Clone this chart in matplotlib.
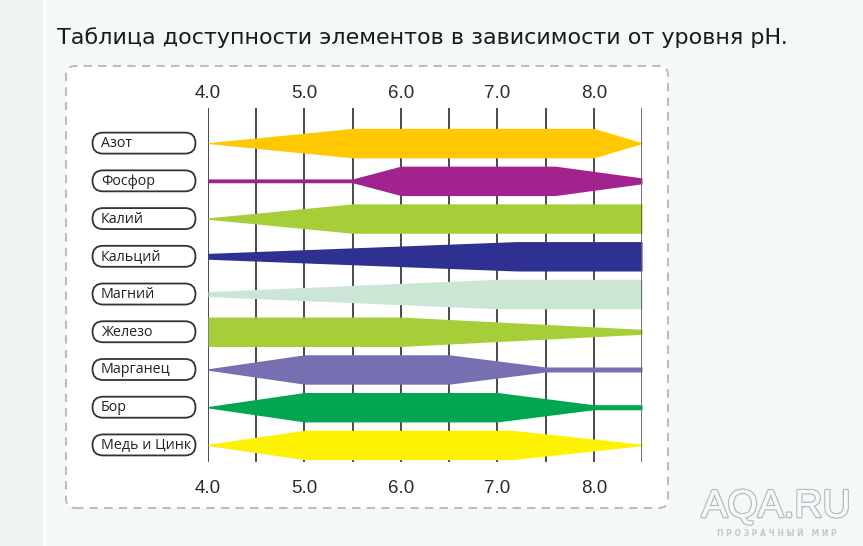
import matplotlib
matplotlib.use("Agg")
import matplotlib.pyplot as plt
from matplotlib.patches import FancyBboxPatch, Rectangle
import matplotlib.patheffects as pe

# данные: элементы, цвета и профиль ширины полосы по pH
elements = ["Азот", "Фосфор", "Калий", "Кальций", "Магний",
            "Железо", "Марганец", "Бор", "Медь и Цинк"]
colors = ["#ffc800", "#a2238d", "#a6ce39", "#2e3192", "#cbe6d5",
          "#a6ce39", "#7670b3", "#00a650", "#fff200"]
ph_knots = [
    [4.0, 5.5, 8.0, 8.5],
    [4.0, 5.5, 6.0, 7.6, 8.5],
    [4.0, 5.5, 8.5],
    [4.0, 7.2, 8.5],
    [4.0, 7.0, 8.5],
    [4.0, 6.0, 8.5],
    [4.0, 5.0, 6.5, 7.5, 8.5],
    [4.0, 5.0, 7.0, 8.0, 8.5],
    [4.0, 5.0, 7.15, 8.5],
]
widths = [
    [0.03, 1, 1, 0.03],
    [0.13, 0.13, 1, 1, 0.2],
    [0.05, 1, 1],
    [0.2, 1, 1],
    [0.17, 1, 1],
    [1, 1, 0.17],
    [0.05, 1, 1, 0.17, 0.17],
    [0.05, 1, 1, 0.17, 0.17],
    [0.05, 1, 1, 0.05],
]
tick_ph = [4.0, 5.0, 6.0, 7.0, 8.0]
grid_ph = [4.0, 4.5, 5.0, 5.5, 6.0, 6.5, 7.0, 7.5, 8.0, 8.5]

W, H = 863, 546
fig = plt.figure(figsize=(W / 100, H / 100), dpi=100, facecolor="#f4f8f9")

# подложка в пикселях
bg = fig.add_axes([0, 0, 1, 1], zorder=0)
bg.set_xlim(0, W)
bg.set_ylim(0, H)
bg.axis("off")
bg.add_patch(Rectangle((0, 0), 43, H, fc="#eef2f3", ec="none"))
bg.add_patch(Rectangle((43, 0), 2.5, H, fc="white", ec="none"))
bg.add_patch(FancyBboxPatch((66, H - 508), 602, 442,
                            boxstyle="round,pad=0,rounding_size=9",
                            fc="white", ec="#bdbdbd", lw=1.5, ls=(0, (4, 3))))
bg.text(57, H - 38, "Таблица доступности элементов в зависимости от уровня pH.",
        fontsize=16, family="DejaVu Sans", color="#1a1a1a", va="center", ha="left")

# водяной знак
bg.text(776, H - 507, "AQA.RU", fontsize=28, family="Liberation Sans",
        color="#f7f9fa", ha="center", va="center",
        path_effects=[pe.withStroke(linewidth=2.0, foreground="#b8bcbe"),
                      pe.Normal()])
bg.text(777, H - 533, "П Р О З Р А Ч Н Ы Й   М И Р", fontsize=5.5,
        family="DejaVu Sans", color="#c4c8ca", ha="center", va="center",
        weight="bold")

# основная область
ax = fig.add_axes([208 / W, (H - 462) / H, 434 / W, 354 / H], zorder=1)
ax.patch.set_alpha(0)
n = len(elements)
ax.set_xlim(4.0, 8.5)
ax.set_ylim(8 + 17 / 37.6, -35 / 37.6)
for s in ax.spines.values():
    s.set_visible(False)
ax.set_yticks([])

for g in grid_ph[:-1]:
    ax.axvline(g, color="#3c3c3c", lw=1.3, zorder=1)
ax.axvline(grid_ph[-1], color="#606060", lw=2.0, zorder=3)

half = 0.39
for i in range(n):
    lo = [i - half * w for w in widths[i]]
    hi = [i + half * w for w in widths[i]]
    ax.fill_between(ph_knots[i], lo, hi, color=colors[i], lw=0, zorder=2)

ax.set_xticks(tick_ph, [f"{t:.1f}" for t in tick_ph])
ax.tick_params(axis="x", length=0, pad=13, labelsize=13.5, labelcolor="#2b2b2b")
for lab in ax.get_xticklabels():
    lab.set_family("Liberation Sans")
top = ax.secondary_xaxis("top")
top.set_xticks(tick_ph, [f"{t:.1f}" for t in tick_ph])
top.tick_params(axis="x", length=0, pad=4, labelsize=13.5, labelcolor="#2b2b2b")
for lab in top.get_xticklabels():
    lab.set_family("Liberation Sans")
for s in top.spines.values():
    s.set_visible(False)

# подписи элементов в скруглённых рамках
fig.canvas.draw()
for i, name in enumerate(elements):
    yc = ax.transData.transform((4.0, i))[1]
    bg.add_patch(FancyBboxPatch((92.5, yc - 10.5), 103, 21,
                                boxstyle="round,pad=0,rounding_size=10.5",
                                fc="white", ec="#333333", lw=1.3, zorder=2))
    bg.text(101, yc - 0.5, name, fontsize=10.3, family="Open Sans", color="#222222",
            va="center", ha="left", zorder=3)

fig.savefig("out.png", dpi=100, facecolor=fig.get_facecolor())
